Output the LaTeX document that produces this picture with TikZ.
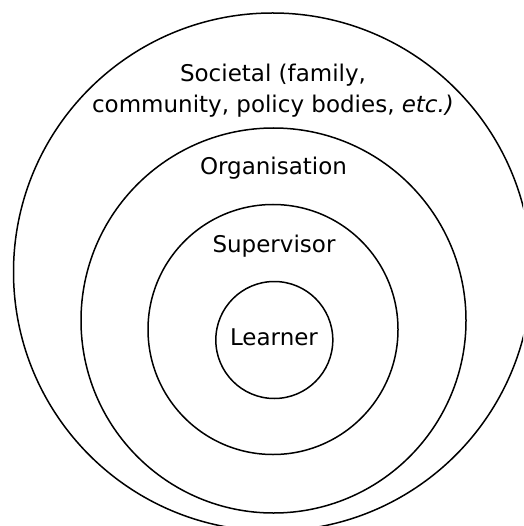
\documentclass[tikz,border=0pt]{standalone}
\usepackage{fontspec}
\setmainfont{DejaVu Sans}
\begin{document}
\begin{tikzpicture}[x=1pt,y=-1pt,
  ring/.style={draw=black,line width=1.5pt,circle,inner sep=0pt},
  label/.style={font=\fontsize{23}{31}\selectfont,align=center,anchor=base,inner sep=0pt}]
\useasboundingbox (0,0) rectangle (523,526);
\clip (0,0) rectangle (523,526);
% nested circles, outermost first
\node[ring,minimum size=518pt] (societal) at (272.5,272) {};
\node[ring,minimum size=385pt] (organisation) at (273.5,320.5) {};
\node[ring,minimum size=250pt] (supervisor) at (273,329.5) {};
\node[ring,minimum size=117pt] (learner) at (274.3,340) {};
% ring labels (the two-line label sits on its last baseline)
\node[label] (tsoc) at (273,112.5) {Societal (family,\\community, policy bodies, \textit{etc.)}};
\node[label] (torg) at (273.5,175) {Organisation};
\node[label] (tsup) at (274,252) {Supervisor};
\node[label] (tlea) at (274,345) {Learner};
\end{tikzpicture}
\end{document}
